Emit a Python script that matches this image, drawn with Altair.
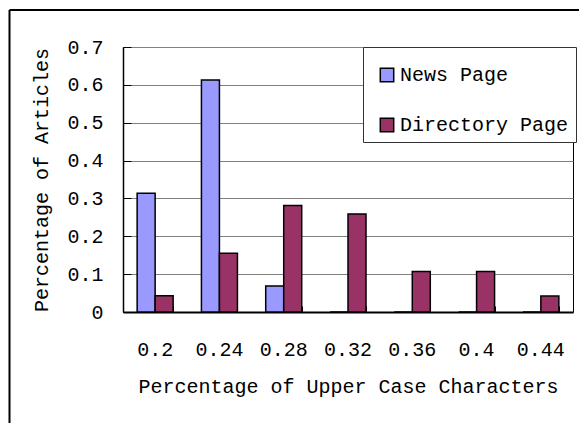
import altair as alt
import pandas as pd

categories = ["0.2", "0.24", "0.28", "0.32", "0.36", "0.4", "0.44"]
news_page = [0.314, 0.613, 0.069, 0, 0, 0, 0]
directory_page = [0.043, 0.155, 0.281, 0.259, 0.107, 0.107, 0.042]
series = ["News Page", "Directory Page"]
colors = ["#9999FF", "#993366"]
y_ticks = [0, 0.1, 0.2, 0.3, 0.4, 0.5, 0.6, 0.7]

rows = []
for c, n, d in zip(categories, news_page, directory_page):
    rows.append({"cat": c, "series": series[0], "value": n})
    rows.append({"cat": c, "series": series[1], "value": d})
df = pd.DataFrame(rows)

FONT = "Liberation Mono"
FS = 20

x_scale = alt.Scale(domain=categories, paddingInner=0.44, paddingOuter=0.22)
y_scale = alt.Scale(domain=[0, 0.7], nice=False, zero=True)

bars = alt.Chart(df).mark_bar(stroke="black", strokeWidth=1.5).encode(
    x=alt.X(
        "cat:N",
        scale=x_scale,
        sort=categories,
        axis=alt.Axis(
            title="Percentage of Upper Case Characters",
            ticks=False,
            labelAngle=0,
            labelPadding=27,
            titlePadding=17,
            domain=True,
            domainColor="black",
            domainWidth=2,
            grid=False,
        ),
    ),
    xOffset=alt.XOffset("series:N", sort=series, scale=alt.Scale(domain=series, paddingInner=0, paddingOuter=0)),
    y=alt.Y(
        "value:Q",
        scale=y_scale,
        axis=alt.Axis(
            values=y_ticks,
            format=".1~f",
            title="Percentage of Articles",
            ticks=False,
            grid=True,
            gridColor="#808080",
            gridWidth=1,
            labelPadding=20,
            titlePadding=15,
            domain=True,
            domainColor="black",
            domainWidth=1.5,
        ),
    ),
    color=alt.Color(
        "series:N",
        sort=series,
        scale=alt.Scale(domain=series, range=colors),
        legend=alt.Legend(
            title=" ",
            titleFontSize=1,
            titlePadding=10,
            orient="none",
            legendX=240,
            legendY=0,
            direction="vertical",
            fillColor="white",
            strokeColor="#333333",
            padding=7,
            rowPadding=30,
            symbolType="square",
            symbolSize=180,
            symbolOffset=7,
            symbolStrokeColor="black",
            symbolStrokeWidth=1.5,
            symbolOpacity=1,
            labelFont=FONT,
            labelFontSize=FS,
            labelColor="black",
            labelOffset=3,
            labelLimit=400,
        ),
    ),
)

tick_layer = alt.Chart(df).mark_bar(opacity=0).encode(
    x=alt.X(
        "cat:N",
        scale=x_scale,
        sort=categories,
        axis=alt.Axis(
            orient="top",
            offset=-265,
            labels=False,
            domain=False,
            title=None,
            grid=False,
            ticks=True,
            tickBand="extent",
            tickSize=6,
            tickColor="black",
            tickWidth=1,
        ),
    ),
    y=alt.Y(
        "value:Q",
        scale=y_scale,
        axis=alt.Axis(
            orient="right",
            offset=-450,
            values=y_ticks,
            labels=False,
            domain=False,
            title=None,
            grid=False,
            ticks=True,
            tickSize=8,
            tickColor="black",
            tickWidth=1,
        ),
    ),
)

frame_df = pd.DataFrame({"k": [0]})
top_rule = alt.Chart(frame_df).mark_rule(color="black", strokeWidth=2).encode(
    x=alt.value(-113.5), x2=alt.value(470), y=alt.value(-37)
)
left_rule = alt.Chart(frame_df).mark_rule(color="black", strokeWidth=2).encode(
    x=alt.value(-113.5), y=alt.value(-37), y2=alt.value(400)
)

chart = (
    alt.layer(bars, tick_layer, top_rule, left_rule)
    .resolve_axis(x="independent", y="independent")
    .properties(
        width=450,
        height=265,
        padding={"left": 115, "top": 39, "right": 6, "bottom": 111},
        autosize=alt.AutoSizeParams(type="none"),
        background="white",
    )
    .configure_view(stroke="black", strokeWidth=1)
    .configure_axis(
        labelFont=FONT,
        labelFontSize=FS,
        labelColor="black",
        titleFont=FONT,
        titleFontSize=FS,
        titleFontWeight="normal",
        titleColor="black",
    )
)

chart.save("out.html", embed_options={"renderer": "svg", "actions": False})
